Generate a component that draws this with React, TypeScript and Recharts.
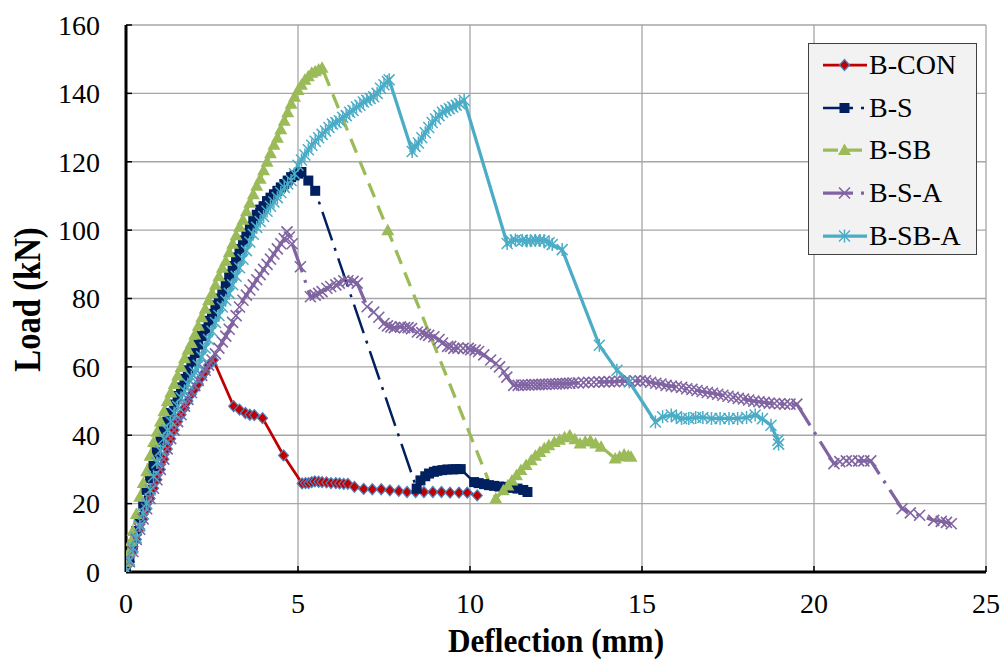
import React from 'react';
import { LineChart, Line, XAxis, YAxis, CartesianGrid, Legend, Label } from 'recharts';

const FONT = '"Liberation Serif", "Times New Roman", Times, serif';

const SERIES_NAMES = ['B-CON', 'B-S', 'B-SB', 'B-S-A', 'B-SB-A'];
const X_TICKS = [0, 5, 10, 15, 20, 25];
const Y_TICKS = [0, 20, 40, 60, 80, 100, 120, 140, 160];
const X_TITLE = 'Deflection (mm)';
const Y_TITLE = 'Load (kN)';

type Pt = [number, number];

const B_CON: Pt[] = [
  [0, 0], [0.1, 3], [0.2, 6], [0.3, 9.5], [0.4, 12.5], [0.5, 15.5], [0.6, 18.5], [0.7, 21.5], [0.8, 24.5],
  [0.9, 27], [1.0, 30], [1.1, 33], [1.2, 36], [1.3, 39], [1.4, 41.5], [1.5, 44], [1.6, 46], [1.7, 48],
  [1.8, 50], [1.9, 52], [2.0, 53.5], [2.1, 55], [2.2, 57], [2.3, 58.5], [2.4, 60.5], [2.54, 62],
  [3.13, 48.5], [3.3, 47.5], [3.47, 46.5], [3.6, 46], [3.73, 45.9], [3.97, 45], [4.58, 34.1], [5.12, 25.9],
  [5.22, 26], [5.31, 26], [5.4, 26.3], [5.49, 26.5], [5.6, 26.4], [5.7, 26.3], [5.83, 26.2], [5.96, 26],
  [6.1, 26], [6.21, 25.9], [6.33, 25.8], [6.45, 25.8], [6.64, 24.9], [6.91, 24.3], [7.16, 24.2], [7.42, 24.2],
  [7.67, 23.9], [7.93, 23.7], [8.17, 23.4], [8.42, 23.4], [8.66, 23.4], [8.92, 23.4], [9.17, 23.4], [9.42, 23.2],
  [9.68, 23.2], [9.92, 23.2], [10.21, 22.4],
];

const B_S: Pt[] = [
  [0, 0], [0.1, 4], [0.2, 8], [0.3, 12], [0.4, 16], [0.5, 20], [0.6, 24], [0.7, 27.5], [0.8, 31], [0.9, 35],
  [1.0, 38.5], [1.1, 41.5], [1.2, 44], [1.3, 46.5], [1.4, 49], [1.5, 51.5], [1.6, 54], [1.7, 56.5], [1.8, 59],
  [1.9, 61.5], [2.0, 64], [2.1, 66.5], [2.2, 69], [2.3, 71], [2.4, 73.5], [2.5, 75.5], [2.6, 78], [2.7, 80],
  [2.8, 82], [2.9, 84.5], [3.0, 87], [3.1, 89.5], [3.2, 92], [3.3, 94.5], [3.4, 97], [3.5, 99], [3.6, 101],
  [3.7, 103], [3.8, 104.5], [3.9, 106], [4.0, 107], [4.1, 108.5], [4.2, 109.5], [4.3, 110.5], [4.4, 111.5],
  [4.5, 112.5], [4.6, 113.5], [4.7, 114.5], [4.8, 115.5], [4.9, 116], [5.0, 116.5], [5.1, 117], [5.3, 114.5],
  [5.5, 111.5], [8.45, 24.4], [8.56, 26.8], [8.7, 28], [8.81, 28.8], [8.95, 29.3], [9.05, 29.6], [9.2, 29.8],
  [9.34, 30], [9.5, 30], [9.6, 30.1], [9.73, 30.1], [10.12, 26.3], [10.25, 26], [10.41, 25.7], [10.55, 25.4],
  [10.7, 25.2], [10.85, 25], [11.04, 24.9], [11.2, 24.6], [11.38, 24.4], [11.55, 24], [11.67, 23.4],
];

const B_SB: Pt[] = [
  [0, 0], [0.05, 3], [0.1, 6], [0.15, 9], [0.2, 12], [0.3, 17], [0.4, 22], [0.5, 26], [0.6, 29.5], [0.7, 34],
  [0.8, 38], [0.9, 41], [1.0, 44], [1.1, 47], [1.2, 50], [1.3, 52.5], [1.4, 55], [1.5, 57.5], [1.6, 60],
  [1.7, 62.5], [1.8, 65], [1.9, 67], [2.0, 69.5], [2.1, 72], [2.2, 74.5], [2.3, 77], [2.4, 79.5], [2.5, 81.5],
  [2.6, 84], [2.7, 86.5], [2.8, 89], [2.9, 91], [3.0, 93.5], [3.1, 96], [3.2, 98.5], [3.3, 101], [3.4, 103],
  [3.5, 105.5], [3.6, 108], [3.7, 110.5], [3.8, 113], [3.9, 115], [4.0, 117.5], [4.1, 120], [4.2, 122.5],
  [4.3, 125], [4.4, 127], [4.5, 129.5], [4.6, 132], [4.7, 134.5], [4.8, 137], [4.9, 139], [5.0, 141],
  [5.1, 142.5], [5.2, 144], [5.3, 145], [5.4, 146], [5.5, 146.5], [5.6, 147], [5.7, 147.5],
  [7.61, 100], [10.75, 21.5], [10.97, 23.9], [11.1, 25.3], [11.22, 26.8], [11.35, 28.3], [11.48, 29.8],
  [11.63, 31.3], [11.78, 32.7], [11.9, 34], [12.03, 35.1], [12.16, 36.2], [12.29, 37.1], [12.45, 38],
  [12.6, 38.7], [12.75, 39.4], [12.9, 40], [13.05, 38.8], [13.2, 37.6], [13.35, 38.2], [13.5, 38.5],
  [13.65, 37.6], [13.81, 36.6], [14.22, 33.2], [14.35, 33.8], [14.48, 34.4], [14.6, 34], [14.68, 33.7],
];

const B_S_A: Pt[] = [
  [0, 0], [0.1, 3], [0.2, 6], [0.3, 9.5], [0.4, 12.5], [0.5, 15.5], [0.6, 18.5], [0.7, 21.5], [0.8, 24.5],
  [0.9, 27], [1.0, 30], [1.1, 33], [1.2, 36], [1.3, 39], [1.4, 41.5], [1.5, 44], [1.6, 46], [1.7, 48.5],
  [1.8, 50.5], [1.9, 52.5], [2.0, 54.5], [2.1, 56], [2.2, 57.5], [2.3, 59], [2.4, 60.5], [2.5, 62],
  [2.6, 63.8], [2.7, 65.5], [2.8, 67.3], [2.9, 69], [3.0, 71], [3.1, 73], [3.2, 75], [3.3, 77.5], [3.4, 79.5],
  [3.5, 81], [3.6, 82.5], [3.7, 84], [3.8, 85.5], [3.9, 87], [4.0, 88.5], [4.1, 90], [4.2, 91.5], [4.3, 93],
  [4.4, 94.5], [4.5, 96], [4.6, 97.5], [4.68, 99.5], [4.75, 98], [4.83, 96], [5.07, 89.3], [5.36, 80.5],
  [5.5, 81], [5.6, 81.5], [5.7, 82], [5.84, 83], [5.95, 83.5], [6.1, 84], [6.2, 84.5], [6.33, 85.2],
  [6.45, 85.2], [6.6, 85], [6.72, 84.5], [7.01, 77.6], [7.2, 76], [7.35, 74.5], [7.5, 72.7], [7.6, 72],
  [7.7, 71.7], [7.8, 71.5], [7.98, 71.7], [8.1, 71.5], [8.2, 71.5], [8.3, 71.2], [8.47, 70.2], [8.6, 70],
  [8.7, 69.5], [8.8, 69.2], [8.95, 68.8], [9.1, 68], [9.2, 67], [9.35, 66], [9.44, 66], [9.53, 65.4],
  [9.65, 65.5], [9.8, 65.4], [9.95, 65.4], [10.02, 65], [10.15, 64.9], [10.25, 64.5], [10.4, 63.5],
  [10.6, 62], [10.75, 61], [10.86, 60], [10.99, 58.5], [11.07, 57], [11.27, 54.6], [11.4, 54.6],
  [11.5, 54.7], [11.6, 54.7], [11.7, 54.7], [11.8, 54.8], [11.9, 54.8], [12.0, 54.8], [12.1, 54.9],
  [12.2, 54.9], [12.3, 55], [12.4, 55], [12.5, 55], [12.6, 55.1], [12.7, 55.1], [12.8, 55.2], [12.9, 55.2],
  [13.0, 55.3], [13.15, 55.3], [13.3, 55.4], [13.45, 55.5], [13.6, 55.5], [13.75, 55.6], [13.9, 55.6],
  [14.05, 55.7], [14.2, 55.7], [14.35, 55.8], [14.5, 55.8], [14.65, 55.8], [14.8, 55.9], [14.95, 55.9],
  [15.1, 55.9], [15.25, 55.5], [15.4, 55.2], [15.55, 55], [15.7, 54.6], [15.85, 54.4], [16.0, 54.2],
  [16.15, 54], [16.3, 53.6], [16.45, 53.4], [16.6, 53.1], [16.75, 52.8], [16.9, 52.5], [17.05, 52.3],
  [17.2, 52], [17.35, 51.7], [17.5, 51.4], [17.65, 51.1], [17.8, 50.8], [17.95, 50.6], [18.1, 50.3],
  [18.25, 50], [18.4, 49.8], [18.55, 49.6], [18.7, 49.4], [18.85, 49.3], [19.0, 49.2], [19.15, 49.1],
  [19.3, 49.1], [19.5, 49.1], [20.58, 31.7], [20.75, 32.3], [20.94, 32.5], [21.1, 32.5], [21.3, 32.5],
  [21.45, 32.5], [21.65, 32.5], [22.56, 18.5], [22.8, 17.3], [23.07, 16.6], [23.48, 15.1], [23.7, 14.8],
  [23.85, 14.5], [23.99, 14.1],
];

const B_SB_A: Pt[] = [
  [0, 0], [0.1, 3.5], [0.2, 7], [0.3, 10], [0.4, 13.5], [0.5, 17], [0.6, 20], [0.7, 24], [0.8, 28], [0.9, 32],
  [1.0, 35.5], [1.1, 39], [1.2, 41.5], [1.3, 44], [1.4, 46.5], [1.5, 48.5], [1.6, 51], [1.7, 53], [1.8, 55],
  [1.9, 57], [2.0, 58.5], [2.1, 60.5], [2.2, 63], [2.3, 65.5], [2.4, 68], [2.5, 70.5], [2.6, 73], [2.7, 75],
  [2.8, 77.5], [2.9, 79.5], [3.0, 81.5], [3.1, 84], [3.2, 86.5], [3.3, 89], [3.4, 91.5], [3.5, 94],
  [3.6, 96.5], [3.7, 98.8], [3.8, 100.8], [3.9, 102.5], [4.0, 104], [4.1, 105.5], [4.2, 107], [4.3, 108.2],
  [4.4, 109.5], [4.5, 111], [4.6, 112.5], [4.7, 113.5], [4.8, 114.5], [4.9, 116.5], [5.0, 119], [5.1, 120.5],
  [5.2, 122], [5.3, 123.5], [5.4, 124.8], [5.5, 126], [5.6, 127], [5.7, 128], [5.8, 129], [5.9, 130],
  [6.0, 131], [6.1, 131.5], [6.2, 132], [6.3, 133], [6.4, 133.5], [6.5, 134.5], [6.6, 135], [6.7, 136],
  [6.8, 136.5], [6.9, 137.5], [7.0, 138], [7.1, 138.5], [7.2, 139], [7.3, 140], [7.4, 141.5], [7.5, 142.5],
  [7.6, 143.5], [7.65, 144], [8.32, 123], [8.4, 124.5], [8.5, 125.5], [8.6, 127], [8.7, 128.5], [8.8, 130],
  [8.9, 131.5], [9.0, 132.5], [9.1, 133.5], [9.2, 134.5], [9.3, 135], [9.4, 135.5], [9.5, 136], [9.6, 136.5],
  [9.7, 137], [9.83, 138], [11.08, 96.1], [11.2, 96.8], [11.32, 97.1], [11.52, 97], [11.65, 96.8],
  [11.76, 96.9], [11.9, 97], [12.03, 97], [12.15, 96.9], [12.3, 96.3], [12.39, 95.8], [12.68, 94.3],
  [13.76, 66.3], [14.27, 59], [14.63, 55.6], [15.39, 43.9], [15.6, 45.4], [15.85, 45.9], [16.0, 45.4],
  [16.15, 44.9], [16.36, 44.9], [16.56, 45.2], [16.77, 45.2], [17.02, 44.9], [17.27, 44.9], [17.53, 44.9],
  [17.78, 44.9], [18.04, 45.2], [18.29, 45.9], [18.5, 44.8], [18.75, 42.9], [18.95, 38.5], [18.97, 37.4],
];

const SERIES_DATA: Pt[][] = [B_CON, B_S, B_SB, B_S_A, B_SB_A];

const SERIES_STYLE = [
  { color: '#C00000', width: 2.75, dash: undefined as string | undefined, marker: 'diamond' },
  { color: '#002060', width: 2.5, dash: '30 8 3 8', marker: 'square' },
  { color: '#9BBB59', width: 3.25, dash: '15 9', marker: 'triangle' },
  { color: '#8064A2', width: 3.25, dash: '30 8 3 8', marker: 'x' },
  { color: '#4BACC6', width: 3.25, dash: undefined as string | undefined, marker: 'star' },
];

function drawMarker(kind: string, color: string, cx: number, cy: number, key?: any) {
  switch (kind) {
    case 'diamond':
      return (
        <path key={key} d={`M${cx},${cy - 5.5}L${cx + 5},${cy}L${cx},${cy + 5.5}L${cx - 5},${cy}Z`}
          fill={color} stroke="#4F81BD" strokeWidth={1.2} />
      );
    case 'square':
      return <rect key={key} x={cx - 5} y={cy - 5} width={10} height={10} fill={color} />;
    case 'triangle':
      return <path key={key} d={`M${cx},${cy - 6.5}L${cx + 6.5},${cy + 5}L${cx - 6.5},${cy + 5}Z`} fill={color} />;
    case 'x':
      return (
        <g key={key} stroke={color} strokeWidth={1.6}>
          <line x1={cx - 5.5} y1={cy - 5.5} x2={cx + 5.5} y2={cy + 5.5} />
          <line x1={cx - 5.5} y1={cy + 5.5} x2={cx + 5.5} y2={cy - 5.5} />
        </g>
      );
    default:
      return (
        <g key={key} stroke={color} strokeWidth={1.5}>
          <line x1={cx - 5.5} y1={cy - 5.5} x2={cx + 5.5} y2={cy + 5.5} />
          <line x1={cx - 5.5} y1={cy + 5.5} x2={cx + 5.5} y2={cy - 5.5} />
          <line x1={cx} y1={cy - 6.5} x2={cx} y2={cy + 6.5} />
        </g>
      );
  }
}

const makeDot = (kind: string, color: string) => (p: any) => {
  const { cx, cy, index } = p;
  if (cx == null || cy == null || isNaN(cx) || isNaN(cy)) return <g key={`e${index}`} />;
  return drawMarker(kind, color, cx, cy, `m${index}`);
};

const XTick = (props: any) => {
  const { x, y, payload } = props;
  return (
    <g>
      {payload.value !== 0 && <line x1={x} x2={x} y1={y} y2={y - 6} stroke="#000" strokeWidth={1.5} />}
      <text x={x} y={y + 41} textAnchor="middle" fontFamily={FONT} fontSize={28} fill="#000">
        {payload.value}
      </text>
    </g>
  );
};

const YTick = (props: any) => {
  const { x, y, payload } = props;
  return (
    <g>
      {payload.value !== 0 && <line x1={x} x2={x + 6} y1={y} y2={y} stroke="#000" strokeWidth={1.5} />}
      <text x={x - 26} y={y} dy="0.35em" textAnchor="end" fontFamily={FONT} fontSize={28} fill="#000">
        {payload.value}
      </text>
    </g>
  );
};

const XTitle = (props: any) => {
  const vb = props.viewBox;
  const cx = vb.x + vb.width / 2;
  const by = vb.y + 80;
  return (
    <text transform={`translate(${cx},${by}) scale(0.92,1)`} x={0} y={0} textAnchor="middle"
      fontFamily={FONT} fontSize={34} fontWeight="bold" fill="#000">
      {X_TITLE}
    </text>
  );
};

const YTitle = (props: any) => {
  const vb = props.viewBox;
  const bx = vb.x + 40;
  const cy = vb.y + vb.height / 2 + 1;
  return (
    <text transform={`translate(${bx},${cy}) rotate(-90) scale(0.86,1)`} x={0} y={0} textAnchor="middle"
      fontFamily={FONT} fontSize={38} fontWeight="bold" fill="#000">
      {Y_TITLE}
    </text>
  );
};

const renderLegend = () => (
  <div style={{
    width: 169, height: 212, background: '#f2f2f2', border: '1.5px solid #404040', boxSizing: 'border-box',
    position: 'relative', fontFamily: FONT,
  }}>
    {SERIES_NAMES.map((name, i) => {
      const st = SERIES_STYLE[i];
      return (
        <div key={name} style={{ position: 'absolute', left: 0, top: i * 42.7, height: 42, width: 169 }}>
          <svg width={60} height={42} style={{ position: 'absolute', left: 0, top: 0 }}>
            <line x1={14} x2={58} y1={21} y2={21} stroke={st.color} strokeWidth={st.width}
              strokeDasharray={st.dash} />
            {drawMarker(st.marker, st.color, 35.5, 21)}
          </svg>
          <span style={{
            position: 'absolute', left: 60, top: 0, lineHeight: '42px', fontSize: 28, color: '#000',
            whiteSpace: 'nowrap',
          }}>{name}</span>
        </div>
      );
    })}
  </div>
);

export default function App() {
  return (
    <div style={{ position: 'absolute', left: 0, top: 0, background: '#fff' }}>
      <LineChart width={1001} height={660} margin={{ top: 25, right: 15, bottom: 0, left: 0 }}>
        <CartesianGrid stroke="#a6a6a6" strokeWidth={1.3} xAxisId={0} yAxisId={0} />
        <XAxis xAxisId={0} dataKey="x" type="number" domain={[0, 25]} ticks={X_TICKS} interval={0}
          height={88} tickSize={0} tickMargin={0} tick={<XTick />} tickLine={false}
          axisLine={{ stroke: '#000', strokeWidth: 3 }} allowDataOverflow>
          <Label content={<XTitle />} />
        </XAxis>
        <XAxis xAxisId="top" orientation="top" type="number" domain={[0, 25]} height={0} tick={false}
          tickLine={false} axisLine={{ stroke: '#000', strokeWidth: 1.2 }} />
        <YAxis yAxisId={0} type="number" domain={[0, 160]} ticks={Y_TICKS} interval={0} width={126}
          tickSize={0} tickMargin={0} tick={<YTick />} tickLine={false}
          axisLine={{ stroke: '#000', strokeWidth: 3 }} allowDataOverflow>
          <Label content={<YTitle />} />
        </YAxis>
        <YAxis yAxisId="right" orientation="right" type="number" domain={[0, 160]} width={0} tick={false}
          tickLine={false} axisLine={{ stroke: '#333', strokeWidth: 1.2 }} />
        <Legend layout="vertical" align="center" verticalAlign="middle" content={renderLegend}
          wrapperStyle={{ position: 'absolute', left: 808, top: 43, width: 169, height: 212 }} />
        {SERIES_NAMES.map((name, i) => {
          const st = SERIES_STYLE[i];
          return (
            <Line key={name} xAxisId={0} yAxisId={0} name={name}
              data={SERIES_DATA[i].map(([x, y]) => ({ x, y }))} dataKey="y" type="linear"
              stroke={st.color} strokeWidth={st.width} strokeDasharray={st.dash}
              dot={makeDot(st.marker, st.color)} activeDot={false} isAnimationActive={false} />
          );
        })}
      </LineChart>
    </div>
  );
}
